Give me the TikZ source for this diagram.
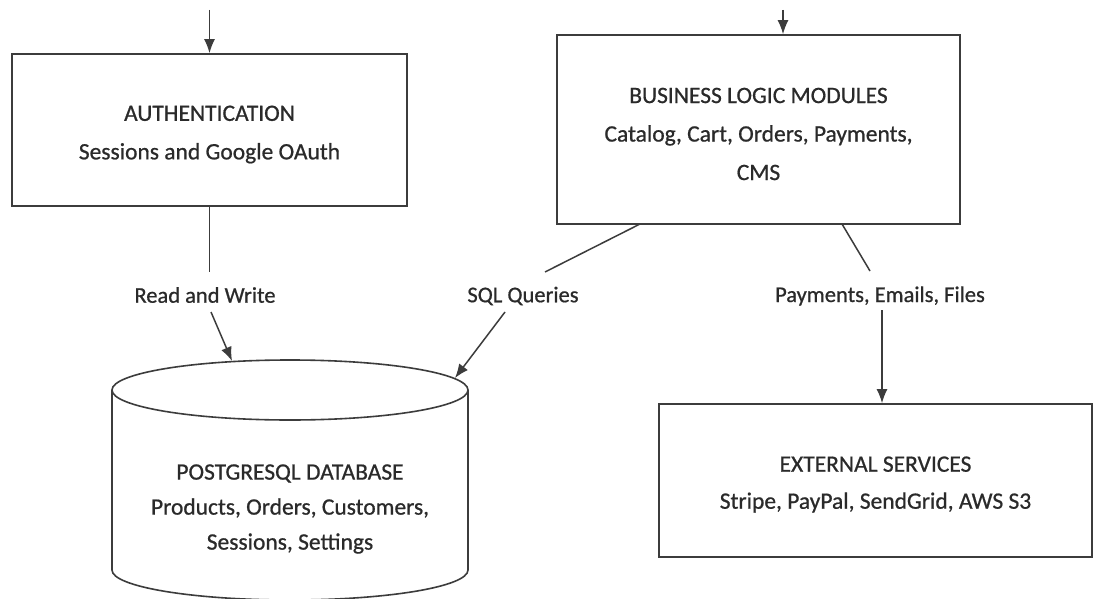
\documentclass[tikz,border=0pt]{standalone}
\usepackage{fontspec}
\setmainfont{Carlito}[FakeBold=0.7]
\usetikzlibrary{arrows.meta}
\definecolor{ink}{HTML}{2A2A2A}
\definecolor{wirecol}{HTML}{3C3C3C}
% lower a block of text without changing the space it takes
\newcommand{\lowerby}[2]{\raisebox{-#1}[\height][\depth]{#2}}

\begin{document}
\begin{tikzpicture}[x=1pt,y=-1pt,
  wire/.style={draw=wirecol, line width=1.5pt},
  flow/.style={wire, -{Latex[length=14pt,width=11pt]}},
  box/.style={draw=wirecol, line width=1.6pt, fill=white, align=center,
    text=ink, font=\fontsize{23.5}{38.5}\selectfont, inner sep=0pt},
  lbl/.style={text=ink, font=\fontsize{22.5}{26}\selectfont, inner sep=2pt}]
\useasboundingbox (0,0) rectangle (1094,599);
\clip (0,0) rectangle (1094,599);
\fill[white] (0,0) rectangle (1094,599);

% component boxes
\node[box, minimum width=395pt, minimum height=152pt] (auth) at (209.5,130)
  {\lowerby{4.5pt}{\parbox{390pt}{\centering AUTHENTICATION\\Sessions and Google OAuth}}};
\node[box, minimum width=403pt, minimum height=189pt] (biz) at (758.5,129.5)
  {\lowerby{4.5pt}{\parbox{400pt}{\centering BUSINESS LOGIC MODULES\\Catalog, Cart, Orders, Payments,\\CMS}}};
\node[box, font=\fontsize{23.5}{37}\selectfont, minimum width=433pt, minimum height=153pt] (ext) at (875.5,480.5)
  {\lowerby{4pt}{\parbox{430pt}{\centering EXTERNAL SERVICES\\Stripe, PayPal, SendGrid, AWS S3}}};

% database cylinder
\draw[wire, line width=1.6pt] (112,390) -- (112,570)
  arc[start angle=180, end angle=0, x radius=178, y radius=30] -- (468,390);
\draw[wire, line width=1.6pt] (290,390) ellipse[x radius=178, y radius=30];
\node[align=center, text=ink, font=\fontsize{23.5}{35}\selectfont] (db) at (290,509)
  {POSTGRESQL DATABASE\\Products, Orders, Customers,\\Sessions, Settings};
\coordinate (dbRW) at (232,361);
\coordinate (dbSQL) at (455,378);

% incoming requests from above
\coordinate (inAuth) at (209.5,10);
\coordinate (inBiz) at (783,10);
\draw[flow] (inAuth) -- (auth.north);
\draw[flow] (inBiz) -- (biz.north -| inBiz);

% edge labels
\node[lbl] (rw) at (205,295) {Read and Write};
\node[lbl] (sql) at (523,296) {SQL Queries};
\node[lbl] (pef) at (880,296) {Payments, Emails, Files};

% auth -> database
\coordinate (rwB) at (209.5,272);
\coordinate (rwC) at (211,312);
\draw[wire] (auth.south) -- (rwB);
\draw[flow] (rwC) -- (dbRW);

% business logic -> database
\coordinate (sqlA) at (640,224);
\coordinate (sqlB) at (545,272);
\coordinate (sqlC) at (505,312);
\draw[wire] (sqlA) -- (sqlB);
\draw[flow] (sqlC) -- (dbSQL);

% business logic -> external services
\coordinate (pefA) at (842,224);
\coordinate (pefB) at (870,271);
\coordinate (pefC) at (882,310);
\draw[wire] (pefA) -- (pefB);
\draw[flow] (pefC) -- (ext.north -| pefC);
\end{tikzpicture}
\end{document}
